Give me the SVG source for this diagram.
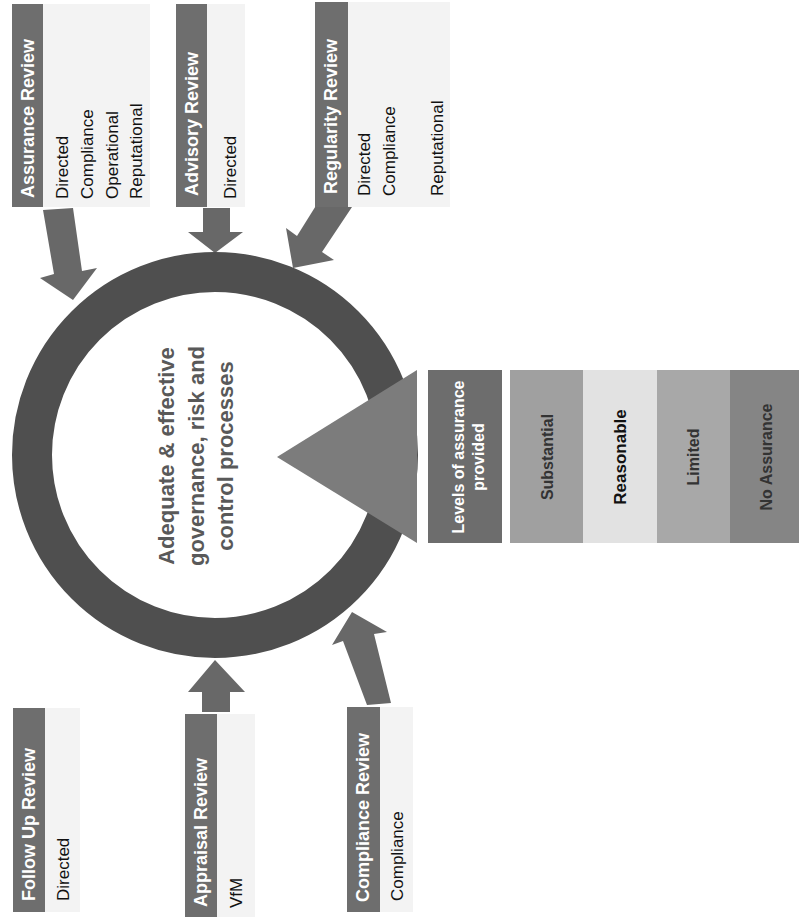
<svg xmlns="http://www.w3.org/2000/svg" width="799" height="923" viewBox="0 0 799 923">
<style>
text{font-family:"Liberation Sans",Arial,sans-serif}
.hdr{fill:#6e6e6e}
.cnt{fill:#f3f3f3}
.ht{fill:#ffffff;font-weight:bold;font-size:18px;dominant-baseline:central}
.it{fill:#111111;font-size:17px;dominant-baseline:central}
.arr{fill:#686868}
.ct{fill:#595959;font-weight:bold;font-size:22px;text-anchor:middle;dominant-baseline:central}
.lv{font-weight:bold;font-size:16px;text-anchor:middle;dominant-baseline:central}
</style>
<rect width="799" height="923" fill="#ffffff"/>

<g id="connectors">
<polygon class="arr" points="43,210 73,208 82,271 97,268 73,300 40,278 54,274"/>
<polygon class="arr" points="203,208 230,208 230,232 243,232 215,253 188,232 203,232"/>
<polygon class="arr" points="317,204 352,207 322,252 334,260 293,268 286,228 297,236"/>
<polygon class="arr" points="202,712 230,712 230,692 245,692 215,660 188,692 202,692"/>
<polygon class="arr" points="367,705 391,703 374,634 387,632 352,612 332,645 343,641"/>
</g>

<g id="ring">
<circle cx="215" cy="455" r="183" fill="none" stroke="#4f4f4f" stroke-width="40"/>
<text class="ct" transform="translate(166,456) rotate(-90)">Adequate &amp; effective</text>
<text class="ct" transform="translate(196,456) rotate(-90)">governance, risk and</text>
<text class="ct" transform="translate(225,456) rotate(-90)">control processes</text>
</g>

<g id="assurance-review">
<rect class="cnt" x="43" y="4" width="107" height="203"/>
<rect class="hdr" x="12" y="4" width="31" height="203"/>
<text class="ht" transform="translate(28,198) rotate(-90)">Assurance Review</text>
<text class="it" transform="translate(62,199) rotate(-90)">Directed</text>
<text class="it" transform="translate(87,199) rotate(-90)">Compliance</text>
<text class="it" transform="translate(112,199) rotate(-90)">Operational</text>
<text class="it" transform="translate(136,199) rotate(-90)">Reputational</text>
</g>

<g id="advisory-review">
<rect class="cnt" x="207" y="4" width="38" height="203"/>
<rect class="hdr" x="176" y="4" width="31" height="203"/>
<text class="ht" transform="translate(192,196) rotate(-90)">Advisory Review</text>
<text class="it" transform="translate(230,199) rotate(-90)">Directed</text>
</g>

<g id="regularity-review">
<rect class="cnt" x="348" y="2" width="102" height="205"/>
<rect class="hdr" x="315" y="2" width="33" height="205"/>
<text class="ht" transform="translate(331,194) rotate(-90)">Regularity Review</text>
<text class="it" transform="translate(364,196) rotate(-90)">Directed</text>
<text class="it" transform="translate(389,196) rotate(-90)">Compliance</text>
<text class="it" transform="translate(437,196) rotate(-90)">Reputational</text>
</g>

<g id="follow-up-review">
<rect class="cnt" x="45" y="708" width="35" height="204"/>
<rect class="hdr" x="13" y="708" width="32" height="204"/>
<text class="ht" transform="translate(29,901) rotate(-90)">Follow Up Review</text>
<text class="it" transform="translate(63,901) rotate(-90)">Directed</text>
</g>

<g id="appraisal-review">
<rect class="cnt" x="217" y="714" width="38" height="203"/>
<rect class="hdr" x="185" y="714" width="32" height="203"/>
<text class="ht" transform="translate(201,907) rotate(-90)">Appraisal Review</text>
<text class="it" transform="translate(236,908) rotate(-90)">VfM</text>
</g>

<g id="compliance-review">
<rect class="cnt" x="380" y="707" width="33" height="205"/>
<rect class="hdr" x="347" y="707" width="33" height="205"/>
<text class="ht" transform="translate(363,902) rotate(-90)">Compliance Review</text>
<text class="it" transform="translate(397,901) rotate(-90)">Compliance</text>
</g>

<g id="levels">
<polygon fill="#7c7c7c" points="277,457 417,370 417,543"/>
<rect x="428" y="370" width="74" height="173" fill="#6d6d6d"/>
<text class="lv" fill="#ffffff" transform="translate(458,457) rotate(-90)">Levels of assurance</text>
<text class="lv" fill="#ffffff" transform="translate(478,457) rotate(-90)">provided</text>
</g>

<g id="substantial">
<rect x="510" y="370" width="73" height="173" fill="#a0a0a0"/>
<text class="lv" fill="#333333" transform="translate(547,457) rotate(-90)">Substantial</text>
</g>
<g id="reasonable">
<rect x="583" y="370" width="74" height="173" fill="#e2e2e2"/>
<text class="lv" fill="#111111" font-size="17" style="font-size:17px" transform="translate(620,457) rotate(-90)">Reasonable</text>
</g>
<g id="limited">
<rect x="657" y="370" width="73" height="173" fill="#a8a8a8"/>
<text class="lv" fill="#333333" transform="translate(693,457) rotate(-90)">Limited</text>
</g>
<g id="no-assurance">
<rect x="730" y="370" width="69" height="173" fill="#858585"/>
<text class="lv" fill="#333333" transform="translate(766,457) rotate(-90)">No Assurance</text>
</g>
</svg>
